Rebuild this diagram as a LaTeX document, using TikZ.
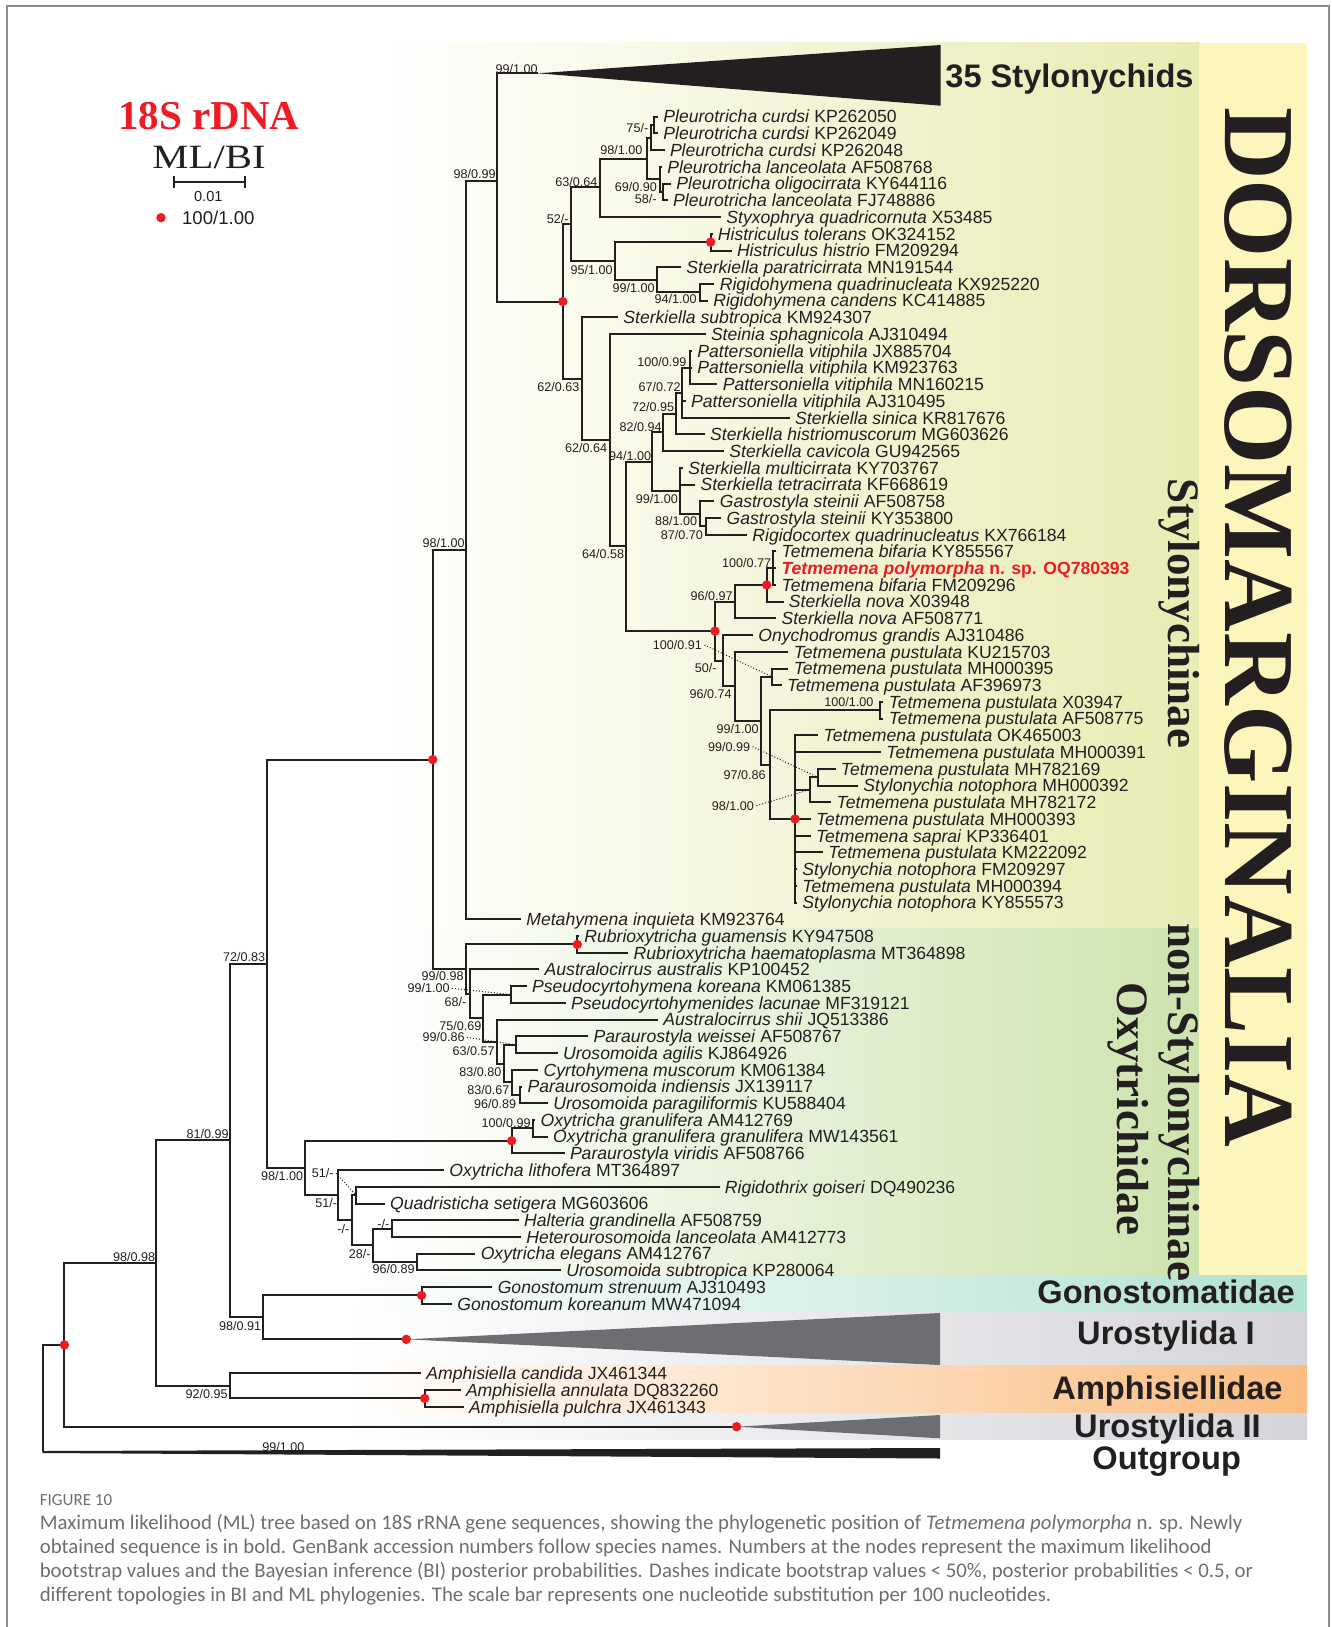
\documentclass[tikz,border=0pt]{standalone}
\usepackage{fontspec}
\setmainfont{Liberation Sans}
\newfontfamily\timesfont{Liberation Serif}
\newfontfamily\capfont{Carlito}
\definecolor{ink}{RGB}{35,31,32}
\definecolor{dotred}{RGB}{237,28,36}
\definecolor{styband}{RGB}{232,235,178}
\definecolor{dorsoband}{RGB}{252,246,188}
\definecolor{oxyband}{RGB}{205,227,174}
\definecolor{gonoband}{RGB}{178,224,211}
\definecolor{uroband}{RGB}{212,213,217}
\definecolor{amphband}{RGB}{250,188,128}
\definecolor{urotri}{RGB}{109,110,113}
\definecolor{captgray}{RGB}{110,110,110}
\definecolor{framegray}{RGB}{140,140,140}
\newcommand{\tipsize}{\fontsize{8.8}{10}\selectfont}
\newcommand{\supsize}{\fontsize{6.3}{7}\selectfont}
\newcommand{\grpsize}{\fontsize{16.3}{18}\selectfont}
\tikzset{
  br/.style={line width=1pt, draw=ink},
  tip/.style={anchor=west, inner xsep=2.5pt, inner ysep=0pt, text height=6.3pt, text depth=0pt, font=\tipsize, text=ink},
  sup/.style={anchor=east, inner sep=0pt, text height=4.5pt, text depth=0pt, font=\supsize, text=ink},
  lead/.style={densely dotted, line width=0.5pt, draw=ink},
  grp/.style={inner sep=0pt, text height=11.6pt, text depth=0pt, font=\grpsize\bfseries, text=ink},
  rank/.style={rotate=-90, anchor=base, inner sep=0pt, font=\timesfont\bfseries\fontsize{22.5}{24}\selectfont, text=ink},
}
\begin{document}
\begin{tikzpicture}[x=0.5pt,y=-0.5pt]
\useasboundingbox (0,0) rectangle (1332,1627);

% frame and coloured bands
\draw[framegray, line width=1pt] (6.7,1627) -- (6.7,5.7) -- (1329,5.7) -- (1329,1627);
\shade[left color=white, right color=styband] (381,43) rectangle (1199,928);
\shade[left color=white, right color=oxyband] (381,928) rectangle (1199,1275);
\fill[dorsoband] (1199,43) rectangle (1307,1275);
\shade[left color=white, right color=gonoband] (344,1275) rectangle (1307,1311.7);
\shade[left color=white, right color=uroband] (344,1311.7) rectangle (1307,1365);
\shade[left color=white, right color=amphband] (344,1365) rectangle (1307,1413.3);
\shade[left color=white, right color=uroband] (344,1413.3) rectangle (1307,1439);

% legend
\node[inner sep=0pt, text height=13.6pt, text depth=0pt, text=dotred, font=\timesfont\bfseries\fontsize{20.5}{22}\selectfont] (title) at (209,115.8) {18S rDNA};
\node[inner sep=0pt, text height=11.3pt, text depth=0pt, text=ink, font=\timesfont\fontsize{17}{19}\selectfont] (mlbi) at (209,157) {\scalebox{1.2}[1]{ML/BI}};
\coordinate (sbl) at (174,181.7);
\coordinate (sbr) at (245,181.7);
\draw[br] (sbl) -- (sbr);
\draw[br] ([yshift=3pt]sbl) -- ([yshift=-3pt]sbl);
\draw[br] ([yshift=3pt]sbr) -- ([yshift=-3pt]sbr);
\node[inner sep=0pt, text height=5.2pt, text depth=0pt, text=ink, font=\fontsize{7.3}{8}\selectfont] (sblab) at (208.3,196.7) {0.01};
\fill[dotred] (161,217.7) circle (2.35pt);
\node[anchor=west, inner sep=0pt, text height=6.7pt, text depth=0pt, text=ink, font=\fontsize{9.3}{10}\selectfont] (dotlab) at (181.7,217.7) {100/1.00};

% tips
\node[tip] (t0) at (658,116.7) {\textit{Pleurotricha curdsi} KP262050};
\node[tip] (t1) at (658,133.4) {\textit{Pleurotricha curdsi} KP262049};
\node[tip] (t2) at (664.6,150.1) {\textit{Pleurotricha curdsi} KP262048};
\node[tip] (t3) at (662,166.9) {\textit{Pleurotricha lanceolata} AF508768};
\node[tip] (t4) at (671,183.6) {\textit{Pleurotricha oligocirrata} KY644116};
\node[tip] (t5) at (667.7,200.3) {\textit{Pleurotricha lanceolata} FJ748886};
\node[tip] (t6) at (721,217) {\textit{Styxophrya quadricornuta} X53485};
\node[tip] (t7) at (712.5,233.7) {\textit{Histriculus tolerans} OK324152};
\node[tip] (t8) at (731.6,250.5) {\textit{Histriculus histrio} FM209294};
\node[tip] (t9) at (681,267.2) {\textit{Sterkiella paratricirrata} MN191544};
\node[tip] (t10) at (714.4,283.9) {\textit{Rigidohymena quadrinucleata} KX925220};
\node[tip] (t11) at (707.9,300.6) {\textit{Rigidohymena candens} KC414885};
\node[tip] (t12) at (618,317.3) {\textit{Sterkiella subtropica} KM924307};
\node[tip] (t13) at (705.6,334.1) {\textit{Steinia sphagnicola} AJ310494};
\node[tip] (t14) at (692,350.8) {\textit{Pattersoniella vitiphila} JX885704};
\node[tip] (t15) at (692,367.5) {\textit{Pattersoniella vitiphila} KM923763};
\node[tip] (t16) at (717.4,384.2) {\textit{Pattersoniella vitiphila} MN160215};
\node[tip] (t17) at (685.7,400.9) {\textit{Pattersoniella vitiphila} AJ310495};
\node[tip] (t18) at (789.8,417.7) {\textit{Sterkiella sinica} KR817676};
\node[tip] (t19) at (704.8,434.4) {\textit{Sterkiella histriomuscorum} MG603626};
\node[tip] (t20) at (724,451.1) {\textit{Sterkiella cavicola} GU942565};
\node[tip] (t21) at (683,467.8) {\textit{Sterkiella multicirrata} KY703767};
\node[tip] (t22) at (695.2,484.5) {\textit{Sterkiella tetracirrata} KF668619};
\node[tip] (t23) at (714.4,501.3) {\textit{Gastrostyla steinii} AF508758};
\node[tip] (t24) at (721.3,518) {\textit{Gastrostyla steinii} KY353800};
\node[tip] (t25) at (747,534.7) {\textit{Rigidocortex quadrinucleatus} KX766184};
\node[tip] (t26) at (776.2,551.4) {\textit{Tetmemena bifaria} KY855567};
\node[tip] (t27) at (776.2,568.1) {\color{dotred}\bfseries\textit{Tetmemena polymorpha} n. sp. OQ780393};
\node[tip] (t28) at (776.2,584.9) {\textit{Tetmemena bifaria} FM209296};
\node[tip] (t29) at (783.5,601.6) {\textit{Sterkiella nova} X03948};
\node[tip] (t30) at (776.2,618.3) {\textit{Sterkiella nova} AF508771};
\node[tip] (t31) at (752.9,635) {\textit{Onychodromus grandis} AJ310486};
\node[tip] (t32) at (788.4,651.7) {\textit{Tetmemena pustulata} KU215703};
\node[tip] (t33) at (788.4,668.5) {\textit{Tetmemena pustulata} MH000395};
\node[tip] (t34) at (781.6,685.2) {\textit{Tetmemena pustulata} AF396973};
\node[tip] (t35) at (883.4,701.9) {\textit{Tetmemena pustulata} X03947};
\node[tip] (t36) at (883.4,718.6) {\textit{Tetmemena pustulata} AF508775};
\node[tip] (t37) at (818.3,735.3) {\textit{Tetmemena pustulata} OK465003};
\node[tip] (t38) at (881,752.1) {\textit{Tetmemena pustulata} MH000391};
\node[tip] (t39) at (835.5,768.8) {\textit{Tetmemena pustulata} MH782169};
\node[tip] (t40) at (858,785.5) {\textit{Stylonychia notophora} MH000392};
\node[tip] (t41) at (831.3,802.2) {\textit{Tetmemena pustulata} MH782172};
\node[tip] (t42) at (810.6,818.9) {\textit{Tetmemena pustulata} MH000393};
\node[tip] (t43) at (810.6,835.7) {\textit{Tetmemena saprai} KP336401};
\node[tip] (t44) at (823,852.4) {\textit{Tetmemena pustulata} KM222092};
\node[tip] (t45) at (797,869.1) {\textit{Stylonychia notophora} FM209297};
\node[tip] (t46) at (797,885.8) {\textit{Tetmemena pustulata} MH000394};
\node[tip] (t47) at (797,902.5) {\textit{Stylonychia notophora} KY855573};
\node[tip] (t48) at (521,919.3) {\textit{Metahymena inquieta} KM923764};
\node[tip] (t49) at (579,936) {\textit{Rubrioxytricha guamensis} KY947508};
\node[tip] (t50) at (628.3,952.7) {\textit{Rubrioxytricha haematoplasma} MT364898};
\node[tip] (t51) at (539.3,969.4) {\textit{Australocirrus australis} KP100452};
\node[tip] (t52) at (526.7,986.1) {\textit{Pseudocyrtohymena koreana} KM061385};
\node[tip] (t53) at (565.7,1002.9) {\textit{Pseudocyrtohymenides lacunae} MF319121};
\node[tip] (t54) at (658,1019.6) {\textit{Australocirrus shii} JQ513386};
\node[tip] (t55) at (588.3,1036.3) {\textit{Paraurostyla weissei} AF508767};
\node[tip] (t56) at (557.7,1053) {\textit{Urosomoida agilis} KJ864926};
\node[tip] (t57) at (538.3,1069.7) {\textit{Cyrtohymena muscorum} KM061384};
\node[tip] (t58) at (522.3,1086.5) {\textit{Paraurosomoida indiensis} JX139117};
\node[tip] (t59) at (547.9,1103.2) {\textit{Urosomoida paragiliformis} KU588404};
\node[tip] (t60) at (535.2,1119.9) {\textit{Oxytricha granulifera} AM412769};
\node[tip] (t61) at (547.7,1136.6) {\textit{Oxytricha granulifera granulifera} MW143561};
\node[tip] (t62) at (564.6,1153.3) {\textit{Paraurostyla viridis} AF508766};
\node[tip] (t63) at (444,1170) {\textit{Oxytricha lithofera} MT364897};
\node[tip] (t64) at (719.5,1186.8) {\textit{Rigidothrix goiseri} DQ490236};
\node[tip] (t65) at (384.7,1203.5) {\textit{Quadristicha setigera} MG603606};
\node[tip] (t66) at (518.7,1220.2) {\textit{Halteria grandinella} AF508759};
\node[tip] (t67) at (520.9,1236.9) {\textit{Heterourosomoida lanceolata} AM412773};
\node[tip] (t68) at (475.4,1253.6) {\textit{Oxytricha elegans} AM412767};
\node[tip] (t69) at (561,1270.3) {\textit{Urosomoida subtropica} KP280064};
\node[tip] (t70) at (492.4,1287.1) {\textit{Gonostomum strenuum} AJ310493};
\node[tip] (t71) at (452,1303.8) {\textit{Gonostomum koreanum} MW471094};
\node[tip] (t72) at (421,1373.3) {\textit{Amphisiella candida} JX461344};
\node[tip] (t73) at (460.6,1390) {\textit{Amphisiella annulata} DQ832260};
\node[tip] (t74) at (463.7,1406.7) {\textit{Amphisiella pulchra} JX461343};

% internal nodes
\coordinate (nRoot) at (42.5,1398.5);
\coordinate (og) at (42.5,1452);
\coordinate (nA) at (64.4,1344.9);
\coordinate (u2) at (736.6,1426.7);
\coordinate (nB) at (156,1263.1);
\coordinate (n81) at (230.4,1140.4);
\coordinate (nAm) at (229.6,1385.8);
\coordinate (nAm2) at (424.7,1398.4);
\coordinate (n98c) at (263.4,1317.4);
\coordinate (nGono) at (421.6,1295.4);
\coordinate (u1) at (406.3,1339.3);
\coordinate (n72) at (267,963.8);
\coordinate (nDors) at (432.7,759.6);
\coordinate (n98b) at (305,1168);
\coordinate (nSty) at (466,550.1);
\coordinate (n9998) at (466,969);
\coordinate (n9899) at (496.6,181);
\coordinate (s35) at (537.6,73.3);
\coordinate (nR1) at (562.8,301.5);
\coordinate (n52) at (571,224.2);
\coordinate (n63) at (600,187.4);
\coordinate (n98p) at (646.7,158.5);
\coordinate (nPc) at (651,137.6);
\coordinate (nPc1) at (654,125);
\coordinate (nPl) at (660,179.4);
\coordinate (nP58) at (662.7,192);
\coordinate (n95) at (615.3,260.9);
\coordinate (nHis) at (710.6,242.1);
\coordinate (n99a) at (657,279.7);
\coordinate (nRig) at (700.2,292.3);
\coordinate (n62a) at (582.4,378.8);
\coordinate (n62b) at (609.5,440.2);
\coordinate (n64) at (626.4,546.4);
\coordinate (n94) at (651.6,461.6);
\coordinate (n82) at (663,432.3);
\coordinate (n7295) at (676,413.5);
\coordinate (n67) at (682.3,392.6);
\coordinate (n100a) at (689.5,367.5);
\coordinate (n99b) at (680.3,490.8);
\coordinate (n88) at (699.5,513.8);
\coordinate (n87) at (706,526.4);
\coordinate (nTet) at (715,631.1);
\coordinate (n96) at (735,601.6);
\coordinate (nT100) at (766.7,584.9);
\coordinate (nTs) at (772.8,568.1);
\coordinate (n50) at (723.4,660.6);
\coordinate (n96b) at (735,686.3);
\coordinate (n99c) at (761,720.8);
\coordinate (nMh) at (772.4,676.9);
\coordinate (n97) at (769.7,764.6);
\coordinate (n10001) at (879.6,710.3);
\coordinate (nTP) at (795,818.9);
\coordinate (n98d) at (809.5,789.7);
\coordinate (n99d) at (817.6,777.2);
\coordinate (nRub) at (577.3,944.4);
\coordinate (n68) at (470,993.7);
\coordinate (n75) at (483.3,1018);
\coordinate (nPs) at (510.7,994.5);
\coordinate (n63b) at (496.7,1041.5);
\coordinate (nPW) at (515.7,1044.7);
\coordinate (n83a) at (504,1063.5);
\coordinate (n83b) at (512,1082.3);
\coordinate (n96c) at (519.6,1094.9);
\coordinate (nOg) at (511.6,1140.8);
\coordinate (nOg2) at (532.6,1128.3);
\coordinate (n51b) at (338.4,1195.1);
\coordinate (nX) at (351.8,1220.2);
\coordinate (nRQ) at (356.3,1195.2);
\coordinate (n28) at (372.8,1245.3);
\coordinate (nHH) at (392,1228.6);
\coordinate (n96d) at (417.4,1262);

% collapsed clades
\fill[ink] (s35) -- (940.6,45) -- (940.6,105.7) -- cycle;
\fill[urotri] (u1) -- (940,1313) -- (940,1365) -- cycle;
\fill[urotri] (u2) -- (940,1415) -- (940,1438.3) -- cycle;
\fill[ink] (42.5,1451) -- (940,1448) -- (940,1458.5) -- (42.5,1453) -- cycle;

% branches
\draw[br] (nRoot) |- (nA) (nRoot) |- (og);
\draw[br] (nA) |- (nB) (nA) |- (u2);
\draw[br] (nB) |- (n81) (nB) |- (nAm);
\draw[br] (nAm) |- (t72.west) (nAm) |- (nAm2);
\draw[br] (nAm2) |- (t73.west) (nAm2) |- (t74.west);
\draw[br] (n81) |- (n72) (n81) |- (n98c);
\draw[br] (n98c) |- (nGono) (n98c) |- (u1);
\draw[br] (nGono) |- (t70.west) (nGono) |- (t71.west);
\draw[br] (n72) |- (nDors) (n72) |- (n98b);
\draw[br] (nDors) |- (nSty) (nDors) |- (n9998);
\draw[br] (nSty) |- (n9899) (nSty) |- (t48.west);
\draw[br] (n9899) |- (s35) (n9899) |- (nR1);
\draw[br] (nR1) |- (n52) (nR1) |- (n62a);
\draw[br] (n52) |- (n63) (n52) |- (n95);
\draw[br] (n63) |- (n98p) (n63) |- (t6.west);
\draw[br] (n98p) |- (nPc) (n98p) |- (nPl);
\draw[br] (nPc) |- (nPc1) (nPc) |- (t2.west);
\draw[br] (nPc1) |- (t0.west) (nPc1) |- (t1.west);
\draw[br] (nPl) |- (t3.west) (nPl) |- (nP58);
\draw[br] (nP58) |- (t4.west) (nP58) |- (t5.west);
\draw[br] (n95) |- (nHis) (n95) |- (n99a);
\draw[br] (nHis) |- (t7.west) (nHis) |- (t8.west);
\draw[br] (n99a) |- (t9.west) (n99a) |- (nRig);
\draw[br] (nRig) |- (t10.west) (nRig) |- (t11.west);
\draw[br] (n62a) |- (t12.west) (n62a) |- (n62b);
\draw[br] (n62b) |- (t13.west) (n62b) |- (n64);
\draw[br] (n64) |- (n94) (n64) |- (nTet);
\draw[br] (n94) |- (n82) (n94) |- (n99b);
\draw[br] (n82) |- (n7295) (n82) |- (t20.west);
\draw[br] (n7295) |- (n67) (n7295) |- (t19.west);
\draw[br] (n67) |- (n100a) (n67) |- (t17.west) (n67) |- (t18.west);
\draw[br] (n100a) |- (t14.west) (n100a) |- (t15.west) (n100a) |- (t16.west);
\draw[br] (n99b) |- (t21.west) (n99b) |- (t22.west) (n99b) |- (n88);
\draw[br] (n88) |- (t23.west) (n88) |- (n87);
\draw[br] (n87) |- (t24.west) (n87) |- (t25.west);
\draw[br] (nTet) |- (n96) (nTet) |- (n50);
\draw[br] (n96) |- (nT100) (n96) |- (t30.west);
\draw[br] (nT100) |- (nTs) (nT100) |- (t29.west);
\draw[br] (nTs) |- (t26.west) (nTs) |- (t27.west) (nTs) |- (t28.west);
\draw[br] (n50) |- (t31.west) (n50) |- (n96b);
\draw[br] (n96b) |- (t32.west) (n96b) |- (n99c);
\draw[br] (n99c) |- (nMh) (n99c) |- (n97);
\draw[br] (nMh) |- (t33.west) (nMh) |- (t34.west);
\draw[br] (n97) |- (n10001) (n97) |- (nTP);
\draw[br] (n10001) |- (t35.west) (n10001) |- (t36.west);
\draw[br] (nTP) |- (t37.west) (nTP) |- (t38.west) (nTP) |- (n98d) (nTP) |- (t42.west)
  (nTP) |- (t43.west) (nTP) |- (t44.west) (nTP) |- (t45.west) (nTP) |- (t46.west) (nTP) |- (t47.west);
\draw[br] (n98d) |- (n99d) (n98d) |- (t41.west);
\draw[br] (n99d) |- (t39.west) (n99d) |- (t40.west);
\draw[br] (n9998) |- (nRub) (n9998) |- (n68);
\draw[br] (nRub) |- (t49.west) (nRub) |- (t50.west);
\draw[br] (n68) |- (t51.west) (n68) |- (n75);
\draw[br] (n75) |- (nPs) (n75) |- (n63b);
\draw[br] (nPs) |- (t52.west) (nPs) |- (t53.west);
\draw[br] (n63b) |- (t54.west) (n63b) |- (n83a);
\draw[br] (n83a) |- (nPW) (n83a) |- (n83b);
\draw[br] (nPW) |- (t55.west) (nPW) |- (t56.west);
\draw[br] (n83b) |- (t57.west) (n83b) |- (n96c);
\draw[br] (n96c) |- (t58.west) (n96c) |- (t59.west);
\draw[br] (n98b) |- (nOg) (n98b) |- (n51b);
\draw[br] (nOg) |- (nOg2) (nOg) |- (t62.west);
\draw[br] (nOg2) |- (t60.west) (nOg2) |- (t61.west);
\draw[br] (n51b) |- (t63.west) (n51b) |- (nX);
\draw[br] (nX) |- (nRQ) (nX) |- (n28);
\draw[br] (nRQ) |- (t64.west) (nRQ) |- (t65.west);
\draw[br] (n28) |- (nHH) (n28) |- (n96d);
\draw[br] (nHH) |- (t66.west) (nHH) |- (t67.west);
\draw[br] (n96d) |- (t68.west) (n96d) |- (t69.west);

% support values
\node[sup] (b1) at (538,69.3) {99/1.00};
\node[sup] (b2) at (496,174) {98/0.99};
\node[sup] (b3) at (648.6,128.3) {75/-};
\node[sup] (b4) at (642.8,150) {98/1.00};
\node[sup] (b5) at (597.7,181.7) {63/0.64};
\node[sup] (b6) at (657.4,186.7) {69/0.90};
\node[sup] (b7) at (657,199.3) {58/-};
\node[sup] (b8) at (569,219) {52/-};
\node[sup] (b9) at (613,270) {95/1.00};
\node[sup] (b10) at (655,288.3) {99/1.00};
\node[sup] (b11) at (697,299.3) {94/1.00};
\node[sup] (b12) at (686.8,361.7) {100/0.99};
\node[sup] (b13) at (681,387.3) {67/0.72};
\node[sup] (b14) at (674.6,407.3) {72/0.95};
\node[sup] (b15) at (662,426.7) {82/0.94};
\node[sup] (b16) at (579.7,386.7) {62/0.63};
\node[sup] (b17) at (607.6,448.3) {62/0.64};
\node[sup] (b18) at (651.6,456) {94/1.00};
\node[sup] (b19) at (678.4,499) {99/1.00};
\node[sup] (b20) at (697.6,520.7) {88/1.00};
\node[sup] (b21) at (703.3,535) {87/0.70};
\node[sup] (b22) at (624.5,554) {64/0.58};
\node[sup] (b23) at (465,543) {98/1.00};
\node[sup] (b24) at (771.6,562.7) {100/0.77};
\node[sup] (b25) at (733,596) {96/0.97};
\node[sup] (b26) at (702.4,645) {100/0.91};
\node[sup] (b27) at (717,668.3) {50/-};
\node[sup] (b28) at (732,694) {96/0.74};
\node[sup] (b29) at (873.8,701.7) {100/1.00};
\node[sup] (b30) at (759,729) {99/1.00};
\node[sup] (b31) at (750.6,746.7) {99/0.99};
\node[sup] (b32) at (766,775) {97/0.86};
\node[sup] (b33) at (754.4,805.7) {98/1.00};
\node[sup] (b34) at (265.6,956.5) {72/0.83};
\node[sup] (b35) at (464,976) {99/0.98};
\node[sup] (b36) at (450,988.3) {99/1.00};
\node[sup] (b37) at (466.7,1001.7) {68/-};
\node[sup] (b38) at (481.7,1026) {75/0.69};
\node[sup] (b39) at (465,1037.3) {99/0.86};
\node[sup] (b40) at (495,1050.7) {63/0.57};
\node[sup] (b41) at (501.7,1071.7) {83/0.80};
\node[sup] (b42) at (509.7,1090) {83/0.67};
\node[sup] (b43) at (516.5,1104) {96/0.89};
\node[sup] (b44) at (531,1122.7) {100/0.99};
\node[sup] (b45) at (229,1134) {81/0.99};
\node[sup] (b46) at (303.6,1176) {98/1.00};
\node[sup] (b47) at (334,1173.3) {51/-};
\node[sup] (b48) at (337.5,1203.3) {51/-};
\node[sup] (b49) at (349.6,1229.3) {-/-};
\node[sup] (b50) at (389.7,1224) {-/-};
\node[sup] (b51) at (371,1254) {28/-};
\node[sup] (b52) at (415,1269.3) {96/0.89};
\node[sup] (b53) at (155.6,1257) {98/0.98};
\node[sup] (b54) at (261.5,1326) {98/0.91};
\node[sup] (b55) at (228,1394) {92/0.95};
\node[sup] (b56) at (304.8,1446.7) {99/1.00};

% dotted leaders
\draw[lead] ([xshift=1pt]b26.east) -- (nMh);
\draw[lead] ([xshift=1pt]b31.east) -- (n99d);
\draw[lead] ([xshift=1pt]b33.east) -- (n98d);
\draw[lead] ([xshift=1pt]b36.east) -- (nPs);
\draw[lead] ([xshift=1pt]b39.east) -- (nPW);
\draw[lead] ([xshift=1pt]b47.east) -- (nRQ);

% full support
\fill[dotred] (nHis) circle (2.35pt);
\fill[dotred] (nR1) circle (2.35pt);
\fill[dotred] (nT100) circle (2.35pt);
\fill[dotred] (nTet) circle (2.35pt);
\fill[dotred] (nTP) circle (2.35pt);
\fill[dotred] (nDors) circle (2.35pt);
\fill[dotred] (nRub) circle (2.35pt);
\fill[dotred] (nOg) circle (2.35pt);
\fill[dotred] (nGono) circle (2.35pt);
\fill[dotred] (u1) circle (2.35pt);
\fill[dotred] (nAm2) circle (2.35pt);
\fill[dotred] (u2) circle (2.35pt);
\fill[dotred] (nA) circle (2.35pt);

% group labels
\node[grp, anchor=west] (gSty) at (945,75.5) {35 Stylonychids};
\node[grp] (gGono) at (1166,1292.2) {Gonostomatidae};
\node[grp] (gUro1) at (1166,1333.3) {Urostylida I};
\node[grp] (gAmph) at (1167.5,1387.8) {Amphisiellidae};
\node[grp] (gUro2) at (1167.5,1425.5) {Urostylida II};
\node[grp] (gOut) at (1166.7,1458) {Outgroup};
\node[rotate=-90, inner sep=0pt, text height=33.3pt, text depth=0pt, text=ink, font=\timesfont\bfseries\fontsize{50.3}{52}\selectfont] (dorso) at (1258.4,627) {DORSOMARGINALIA};
\node[rank] (stylo) at (1168,613.3) {Stylonychinae};
\node[rank] (nonsty) at (1168,1102.5) {non-Stylonychinae};
\node[rank] (oxy) at (1117,1109) {Oxytrichidae};

% caption
\node[anchor=west, inner sep=0pt, text=captgray, font=\capfont\fontsize{8.5}{9}\selectfont] (fig) at (39.4,1500) {FIGURE 10};
\node[anchor=west, align=left, inner sep=0pt, text=captgray, font=\capfont\fontsize{10.4}{11.9}\selectfont] (capt) at (39.4,1559.8) {Maximum likelihood (ML) tree based on 18S rRNA gene sequences, showing the phylogenetic position of \textit{Tetmemena polymorpha} n. sp. Newly\\
obtained sequence is in bold. GenBank accession numbers follow species names. Numbers at the nodes represent the maximum likelihood\\
bootstrap values and the Bayesian inference (BI) posterior probabilities. Dashes indicate bootstrap values < 50\%, posterior probabilities < 0.5, or\\
different topologies in BI and ML phylogenies. The scale bar represents one nucleotide substitution per 100 nucleotides.};
\end{tikzpicture}
\end{document}
